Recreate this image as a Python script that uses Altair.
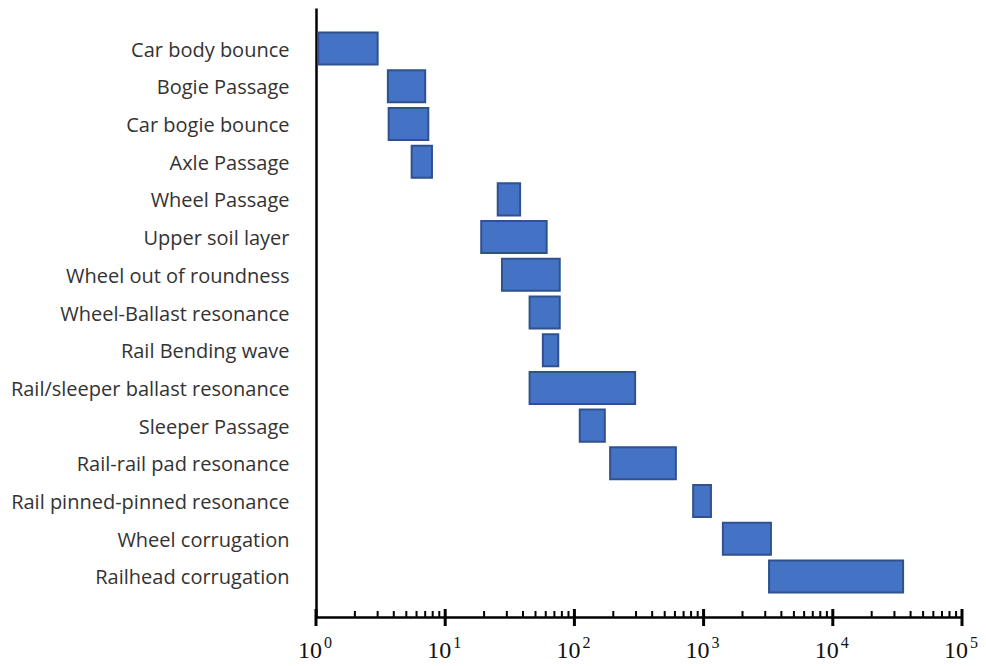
import altair as alt
import pandas as pd

# Frequency ranges (Hz) of railway vibration sources
sources = [
    "Car body bounce", "Bogie Passage", "Car bogie bounce", "Axle Passage",
    "Wheel Passage", "Upper soil layer", "Wheel out of roundness",
    "Wheel-Ballast resonance", "Rail Bending wave",
    "Rail/sleeper ballast resonance", "Sleeper Passage",
    "Rail-rail pad resonance", "Rail pinned-pinned resonance",
    "Wheel corrugation", "Railhead corrugation",
]
f_low = [1.04, 3.6, 3.65, 5.5, 25.5, 19, 27.5, 45, 57, 45, 110, 189, 830, 1410, 3210]
f_high = [3.0, 7.0, 7.4, 7.9, 38, 61, 77, 77, 75, 295, 172, 610, 1140, 3320, 35000]

decades = [1, 10, 100, 1000, 10000, 100000]
exponents = ["0", "1", "2", "3", "4", "5"]
minor = [k * d for d in decades[:-1] for k in range(2, 10)]

bars = pd.DataFrame({"source": sources, "low": f_low, "high": f_high})
major_df = pd.DataFrame({"f": decades, "exp": exponents})
minor_df = pd.DataFrame({"f": minor})

xscale = alt.Scale(type="log", domain=[1, 100000], nice=False)

bar_layer = alt.Chart(bars).mark_bar(
    color="#4472C4", stroke="#2F528F", strokeWidth=2, cornerRadius=0
).encode(
    x=alt.X(
        "low:Q", scale=xscale, title=None,
        axis=alt.Axis(
            values=decades, ticks=False, grid=False, labels=False,
            domainColor="black", domainWidth=2.5,
        ),
    ),
    x2="high:Q",
    y=alt.Y(
        "source:N", sort=None, title=None,
        scale=alt.Scale(paddingInner=0.15, paddingOuter=0.65),
        axis=alt.Axis(
            ticks=False, grid=False, domainColor="black", domainWidth=2.5,
            labelFont="Open Sans", labelFontSize=20, labelColor="#333333",
            labelPadding=27, labelLimit=400, labelOffset=2,
        ),
    ),
)

major_ticks = alt.Chart(major_df).mark_rule(color="black", strokeWidth=3).encode(
    x=alt.X("f:Q", scale=xscale),
    y=alt.value(601),
    y2=alt.value(618),
)

minor_ticks = alt.Chart(minor_df).mark_rule(color="black", strokeWidth=2).encode(
    x=alt.X("f:Q", scale=xscale),
    y=alt.value(603),
    y2=alt.value(609),
)

# Decade labels drawn as "10" with a raised exponent
base_text = alt.Chart(major_df).mark_text(
    font="Liberation Serif", fontSize=24, color="#111111",
    align="center", baseline="alphabetic", dx=-6,
).encode(
    x=alt.X("f:Q", scale=xscale),
    y=alt.value(650),
    text=alt.value("10"),
)

exp_text = alt.Chart(major_df).mark_text(
    font="Liberation Serif", fontSize=16, color="#111111",
    align="left", baseline="alphabetic", dx=8,
).encode(
    x=alt.X("f:Q", scale=xscale),
    y=alt.value(640),
    text="exp:N",
)

chart = alt.layer(bar_layer, major_ticks, minor_ticks, base_text, exp_text).properties(
    width=646,
    height=609,
    background="white",
    autosize=alt.AutoSizeParams(type="none"),
    padding={"left": 316, "top": 8, "right": 24, "bottom": 49},
).configure_view(stroke=None)

chart.save("out.html", embed_options={"renderer": "svg", "actions": False})
